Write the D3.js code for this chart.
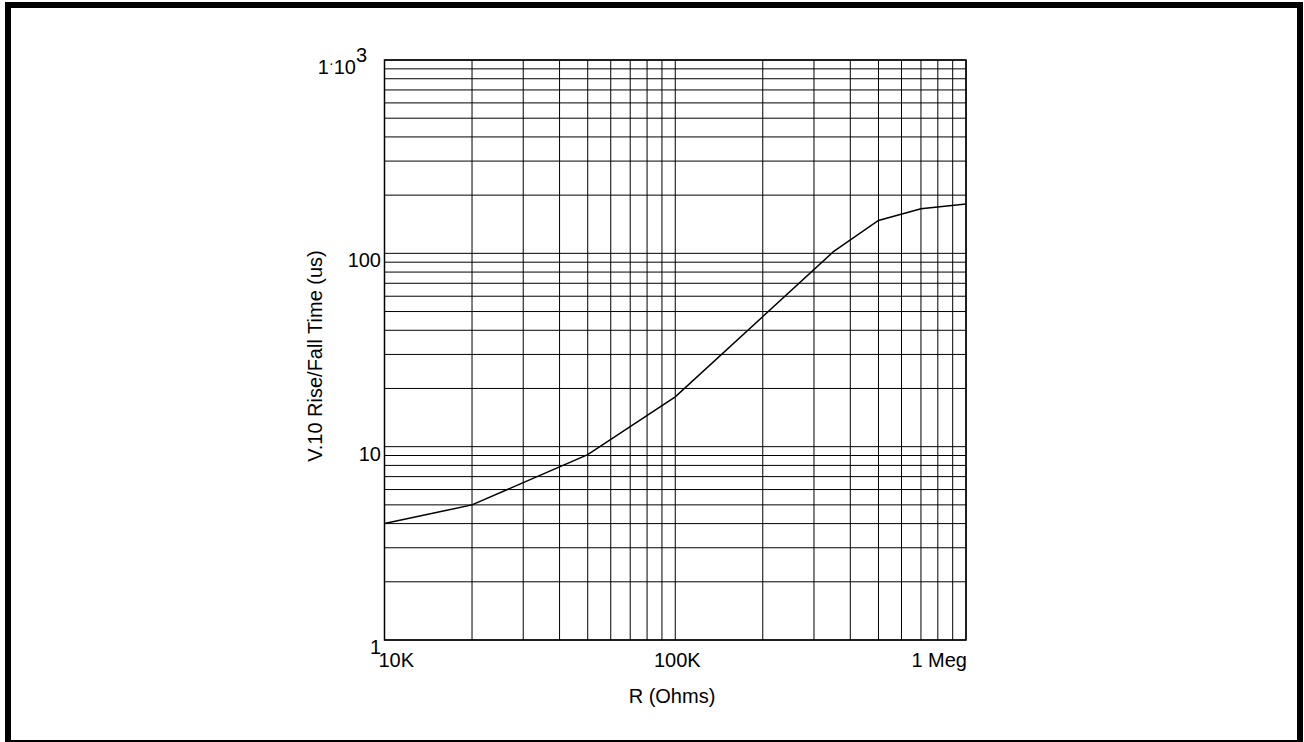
<!DOCTYPE html>
<html>
<head>
<meta charset="utf-8">
<script src="https://cdn.jsdelivr.net/npm/d3@7"></script>
<style>
  html, body { margin: 0; padding: 0; background: #fff; }
  svg { display: block; }
  text { font-family: "Liberation Sans", Arial, sans-serif; fill: #000; }
</style>
</head>
<body>
<script>
// ---- data ----
const rOhms = [10000, 20000, 50000, 100000, 350000, 500000, 700000, 1000000];
const riseTimeUs = [4.0, 5.0, 9.1, 18.1, 102, 148, 170, 180];
const xTickValues = [10000, 100000, 1000000];
const xTickLabels = ["10K", "100K", "1 Meg"];
const yTickValues = [1, 10, 100];
const yTickLabels = ["1", "10", "100"];
const xTitle = "R (Ohms)";
const yTitle = "V.10 Rise/Fall Time (us)";

(function () {
const W = 1304, H = 742;
const svg = d3.select("body").append("svg").attr("width", W).attr("height", H);

// outer frame
svg.append("rect").attr("x", 8).attr("y", 5).attr("width", 1292).attr("height", 738)
  .attr("fill", "none").attr("stroke", "#000").attr("stroke-width", 6);

const x = d3.scaleLog().domain([1e4, 1e6]).range([384.5, 966]);
const y = d3.scaleLog().domain([1, 1000]).range([640, 60]);

// minor/major grid values
const xGrid = [], yGrid = [];
for (let d = 1e4; d < 1e6; d *= 10) for (let k = 1; k <= 9; k++) xGrid.push(d * k);
xGrid.push(1e6);
for (let d = 1; d < 1000; d *= 10) for (let k = 1; k <= 9; k++) yGrid.push(d * k);
yGrid.push(1000);

const g = svg.append("g");
g.selectAll("line.vx").data(xGrid).join("line")
  .attr("x1", d => x(d)).attr("x2", d => x(d))
  .attr("y1", y(1)).attr("y2", y(1000))
  .attr("stroke", "#000").attr("stroke-width", 1);
g.selectAll("line.hy").data(yGrid).join("line")
  .attr("y1", d => y(d)).attr("y2", d => y(d))
  .attr("x1", x(1e4)).attr("x2", x(1e6))
  .attr("stroke", "#000").attr("stroke-width", 1);

// plot frame
g.append("rect").attr("x", x(1e4)).attr("y", y(1000))
  .attr("width", x(1e6) - x(1e4)).attr("height", y(1) - y(1000))
  .attr("fill", "none").attr("stroke", "#000").attr("stroke-width", 1.5);

// data line
const pts = rOhms.map((r, i) => [r, riseTimeUs[i]]);
g.append("path").datum(pts)
  .attr("d", d3.line().x(d => x(d[0])).y(d => y(d[1])))
  .attr("fill", "none").attr("stroke", "#000").attr("stroke-width", 1.5);

// x tick labels
const fs = 20;
const xAnchors = ["start", "middle", "end"];
const xOffs = [-6, 2, 1];
xTickValues.forEach((v, i) => {
  svg.append("text").attr("x", x(v) + xOffs[i]).attr("y", 667)
    .attr("text-anchor", xAnchors[i]).attr("font-size", fs).text(xTickLabels[i]);
});

// y tick labels
yTickValues.forEach((v, i) => {
  svg.append("text").attr("x", 381).attr("y", y(v) + 14)
    .attr("text-anchor", "end").attr("font-size", fs).text(yTickLabels[i]);
});
// 1·10^3 label
const topLbl = svg.append("text").attr("x", 367).attr("y", y(1000) + 14)
  .attr("text-anchor", "end").attr("font-size", fs);
topLbl.append("tspan").text("1");
topLbl.append("tspan").attr("dy", -6).attr("font-size", 14).text("\u00B7");
topLbl.append("tspan").attr("dy", 6).text("10");
topLbl.append("tspan").attr("dy", -12).text("3");

// axis titles
svg.append("text").attr("x", 672).attr("y", 703).attr("text-anchor", "middle")
  .attr("font-size", 20).text(xTitle);
svg.append("text").attr("transform", "translate(322,356) rotate(-90)")
  .attr("text-anchor", "middle").attr("font-size", 20).text(yTitle);
})();
</script>
</body>
</html>
